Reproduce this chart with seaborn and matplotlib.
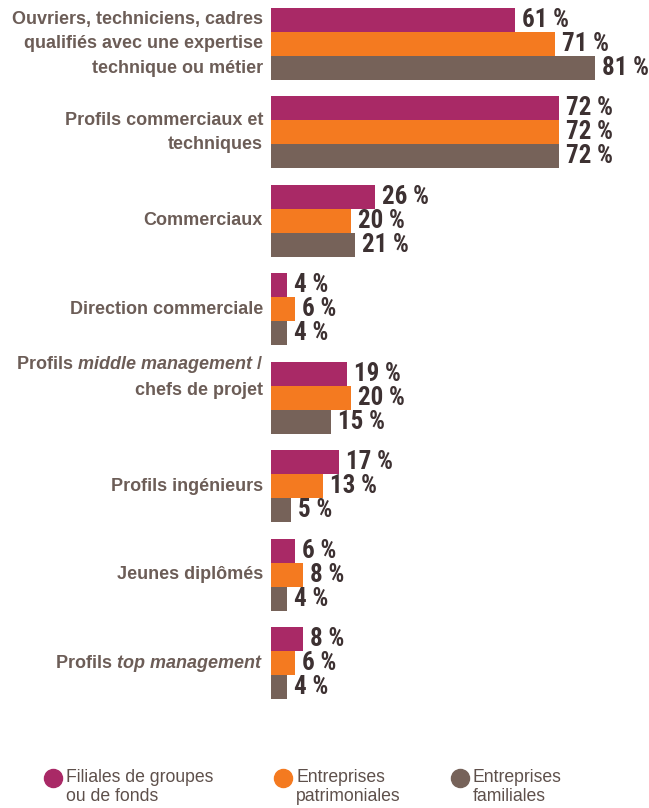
import matplotlib
matplotlib.use("Agg")
import matplotlib.pyplot as plt
import matplotlib.font_manager as fm
from matplotlib.lines import Line2D
import seaborn as sns
import pandas as pd

# ---- data -------------------------------------------------------------
categories = [
    "Ouvriers, techniciens, cadres\nqualifiés avec une expertise\ntechnique ou métier",
    "Profils commerciaux et\ntechniques",
    "Commerciaux",
    "Direction commerciale",
    "Profils middle management /\nchefs de projet",
    "Profils ingénieurs",
    "Jeunes diplômés",
    "Profils top management",
]
series = [
    "Filiales de groupes\nou de fonds",
    "Entreprises\npatrimoniales",
    "Entreprises\nfamiliales",
]
filiales = [61, 72, 26, 4, 19, 17, 6, 8]
patrimoniales = [71, 72, 20, 6, 20, 13, 8, 6]
familiales = [81, 72, 21, 4, 15, 5, 4, 4]
italic_terms = ["middle management", "top management"]

colors = ["#A92966", "#F47A20", "#766259"]
label_color = "#6C5D57"
value_color = "#3D3132"
legend_color = "#5E504B"

df = pd.DataFrame({
    "categorie": categories * 3,
    "type": [s for s in series for _ in categories],
    "valeur": filiales + patrimoniales + familiales,
})

# ---- fonts ------------------------------------------------------------
sns.set_style("white")
plt.rcParams["font.family"] = ["Liberation Sans", "DejaVu Sans"]
plt.rcParams["mathtext.fontset"] = "custom"
plt.rcParams["mathtext.rm"] = "Liberation Sans:bold"
plt.rcParams["mathtext.it"] = "Liberation Sans:italic:bold"
plt.rcParams["mathtext.bf"] = "Liberation Sans:bold"

installed = fm.fontManager.ttflist
names = {f.name for f in installed}
value_font = dict(family="DejaVu Sans", fontweight="bold")
if "Roboto Condensed" in names:
    value_font = dict(family="Roboto Condensed", fontweight="heavy")
elif "Liberation Sans Narrow" in names:
    value_font = dict(family="Liberation Sans Narrow", fontweight="bold")
elif any(f.name == "DejaVu Sans" and f.stretch == "condensed" for f in installed):
    value_font = dict(family="DejaVu Sans", fontweight="bold", fontstretch="condensed")

# ---- figure -----------------------------------------------------------
W, H = 649, 808
fig = plt.figure(figsize=(W / 100, H / 100), dpi=100)
x0, y_top, y_bot = 271, 0, 710
ax = fig.add_axes([x0 / W, 1 - y_bot / H, (W - x0) / W, (y_bot - y_top) / H])

pitch = 88.43
sns.barplot(
    data=df, y="categorie", x="valeur", hue="type", orient="h",
    palette=colors, saturation=1, width=72 / pitch, dodge=True,
    legend=False, ax=ax, linewidth=0, edgecolor="none",
)

ax.set_xlim(0, (W - x0) / 4.0)
ax.set_ylim(7 + (y_bot - 663) / pitch, -44 / pitch)
ax.set_xlabel("")
ax.set_ylabel("")
ax.set_xticks([])
ax.set_yticks([])
sns.despine(ax=ax, left=True, bottom=True)

# value labels at the end of each bar
for cont in ax.containers:
    ax.bar_label(cont, fmt="{:.0f} %", padding=5, color=value_color,
                 fontsize=18, **value_font)

# category labels (with italic terms), right-aligned left of the bars
for i, cat in enumerate(categories):
    txt = cat
    for term in italic_terms:
        if term in txt:
            txt = txt.replace(term, r"$\mathit{" + term.replace(" ", r"\ ") + "}$")
    y = i - (21.5 / pitch if "middle" in cat else 0)
    ax.annotate(
        txt, xy=(0, y), xycoords=("axes fraction", "data"),
        xytext=(-8, 0), textcoords="offset pixels",
        ha="right", va="center", ma="right", fontsize=13.0,
        fontweight="bold", color=label_color, linespacing=1.55,
    )

# legend row at the bottom
marker_x = [53, 283, 460]
for xm, name, col in zip(marker_x, series, colors):
    fig.add_artist(Line2D([xm / W], [1 - 778 / H], marker="o", markersize=13,
                          color=col, linestyle="none", transform=fig.transFigure))
    fig.text((xm + 13) / W, 1 - 769 / H, name, ha="left", va="top",
             fontsize=12.7, color=legend_color, linespacing=1.18)

fig.savefig("out.png", dpi=100)
